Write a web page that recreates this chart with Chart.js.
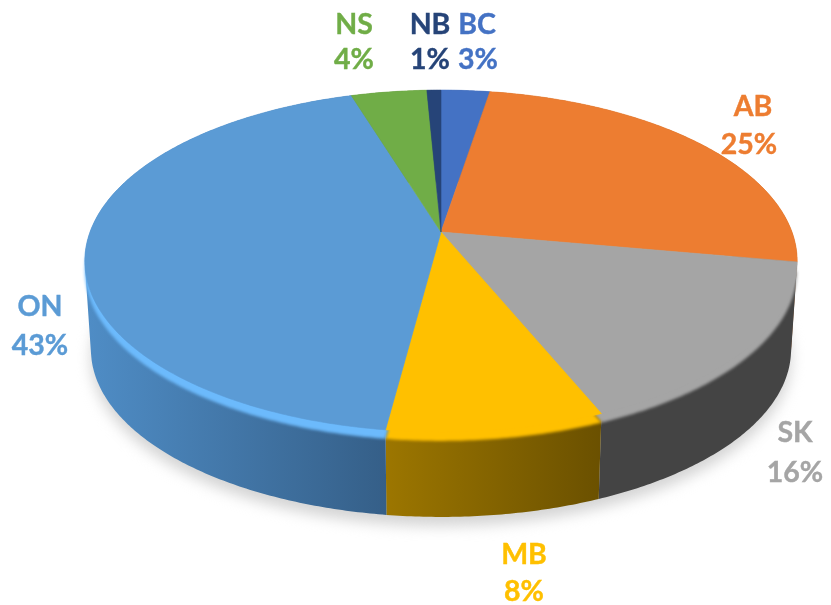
<!DOCTYPE html>
<html><head><meta charset="utf-8">
<style>html,body{margin:0;padding:0;background:#fff}canvas{display:block;filter:blur(0.7px)}</style>
<script src="https://cdn.jsdelivr.net/npm/chart.js@4"></script></head>
<body><canvas id="c" width="831" height="605"></canvas>
<script>
const categories = ['BC','AB','SK','MB','ON','NS','NB'];
const shares = [2.6,25.2,15.9,8.4,43.1,4.05,0.75];
const sliceColors = ['#4472c4','#ed7d31','#a5a5a5','#ffc000','#5b9bd5','#70ad47','#264478'];
const rimColors = ['#4472c4','#ed7d31','#a5a5a5','#ffc000','#6cbafc','#70ad47','#264478'];
const wallLeft = ['#2f5597','#a85a20','#444444','#9c7600','#4f8dc6','#4e7a32','#1a2f54'];
const wallRight = ['#2f5597','#a85a20','#444444','#6a5000','#355f88','#4e7a32','#1a2f54'];
const wallSpan = [[441,487],[487,797],[603,797],[386,603],[85,386],[355,427],[427,441]];
// name x, name y, percent x, percent y
const labelPlaces = [[477,25,478,60],[753,107,749,145],[795,433,795,473],[524,555,524,592],[40,307,40,346],[354,25,354,60],[430,25,430,60]];

// Perspective projection of the pie's circular face onto the page
const K = 0.1696;
const topFace = {cx:441, cy:232, rx:351, ry:166};
const bottomFace = {cx:441, cy:321, rx:345, ry:162.7};
function project(f, a, dy){
  const u=Math.cos(a), v=Math.sin(a), w=1-K*v;
  return [f.cx+f.rx*u/w, f.cy+(dy||0)+f.ry*v/w];
}
function arcPoints(f,a0,a1,dy){
  const n=Math.max(2,Math.ceil(Math.abs(a1-a0)/0.01)), pts=[];
  for(let i=0;i<=n;i++) pts.push(project(f,a0+(a1-a0)*i/n,dy));
  return pts;
}
function trace(ctx,pts){ctx.beginPath();addPoly(ctx,pts);}
function addPoly(ctx,pts){pts.forEach((p,i)=>i?ctx.lineTo(p[0],p[1]):ctx.moveTo(p[0],p[1]));ctx.closePath();}
function signedArea(q){let s=0;q.forEach((p,i)=>{const r=q[(i+1)%q.length];s+=p[0]*r[1]-r[0]*p[1];});return s;}

const pie3d = {
  id:'pie3d',
  beforeDatasetDraw(chart,args){
    const ctx=chart.ctx, arcs=args.meta.data;
    ctx.save();
    // ground shadow
    ctx.filter='blur(7px)';
    ctx.fillStyle='#d4d4d4';
    trace(ctx,arcPoints(bottomFace,0,Math.PI*2,9));ctx.fill();
    ctx.filter='none';
    // side walls: one path of narrow strips per slice, so the outline wraps the sides
    arcs.forEach((arc,i)=>{
      const top=arcPoints(topFace,arc.startAngle,arc.endAngle);
      const bot=arcPoints(bottomFace,arc.startAngle,arc.endAngle);
      const g=ctx.createLinearGradient(wallSpan[i][0],0,wallSpan[i][1],0);
      g.addColorStop(0,wallLeft[i]);g.addColorStop(1,wallRight[i]);
      ctx.fillStyle=g;
      ctx.beginPath();
      for(let s=0;s<top.length-1;s++){
        let q=[top[s],top[s+1],bot[s+1],bot[s]];
        if(signedArea(q)<0) q=q.reverse();
        addPoly(ctx,q);
      }
      ctx.fill();
    });
    // soft bevel round the top face
    ctx.filter='blur(1.6px)';
    arcs.forEach((arc,i)=>{
      const mid=(arc.startAngle+arc.endAngle)/2;
      if(Math.sin(mid)<-0.5) return;
      ctx.fillStyle=rimColors[i];
      trace(ctx,[[topFace.cx,topFace.cy+9]].concat(arcPoints(topFace,arc.startAngle,arc.endAngle,9)));ctx.fill();
    });
    ctx.filter='none';
    // top face
    arcs.forEach((arc,i)=>{
      const pts=[[topFace.cx,topFace.cy]].concat(arcPoints(topFace,arc.startAngle,arc.endAngle));
      ctx.fillStyle=arc.options.backgroundColor;
      ctx.strokeStyle=arc.options.backgroundColor;ctx.lineWidth=0.6;
      trace(ctx,pts);ctx.fill();ctx.stroke();
    });
    ctx.restore();
    return false;
  },
  afterDatasetsDraw(chart){
    const ctx=chart.ctx, vals=chart.data.datasets[0].data, sum=vals.reduce((a,b)=>a+b,0);
    ctx.save();
    ctx.font='700 28.5px Lato';ctx.textAlign='center';ctx.textBaseline='middle';ctx.lineWidth=0.4;
    categories.forEach((name,i)=>{
      const p=labelPlaces[i], pct=Math.round(vals[i]/sum*100)+'%';
      ctx.fillStyle=sliceColors[i];ctx.strokeStyle=sliceColors[i];
      ctx.fillText(name,p[0],p[1]);ctx.strokeText(name,p[0],p[1]);
      ctx.fillText(pct,p[2],p[3]);ctx.strokeText(pct,p[2],p[3]);
    });
    ctx.restore();
  }
};

new Chart(document.getElementById('c'),{
  type:'pie',
  data:{labels:categories,datasets:[{data:shares,backgroundColor:sliceColors,borderWidth:0}]},
  options:{responsive:false,animation:false,events:[],
    plugins:{legend:{display:false},tooltip:{enabled:false}}},
  plugins:[pie3d]
});
</script></body></html>
